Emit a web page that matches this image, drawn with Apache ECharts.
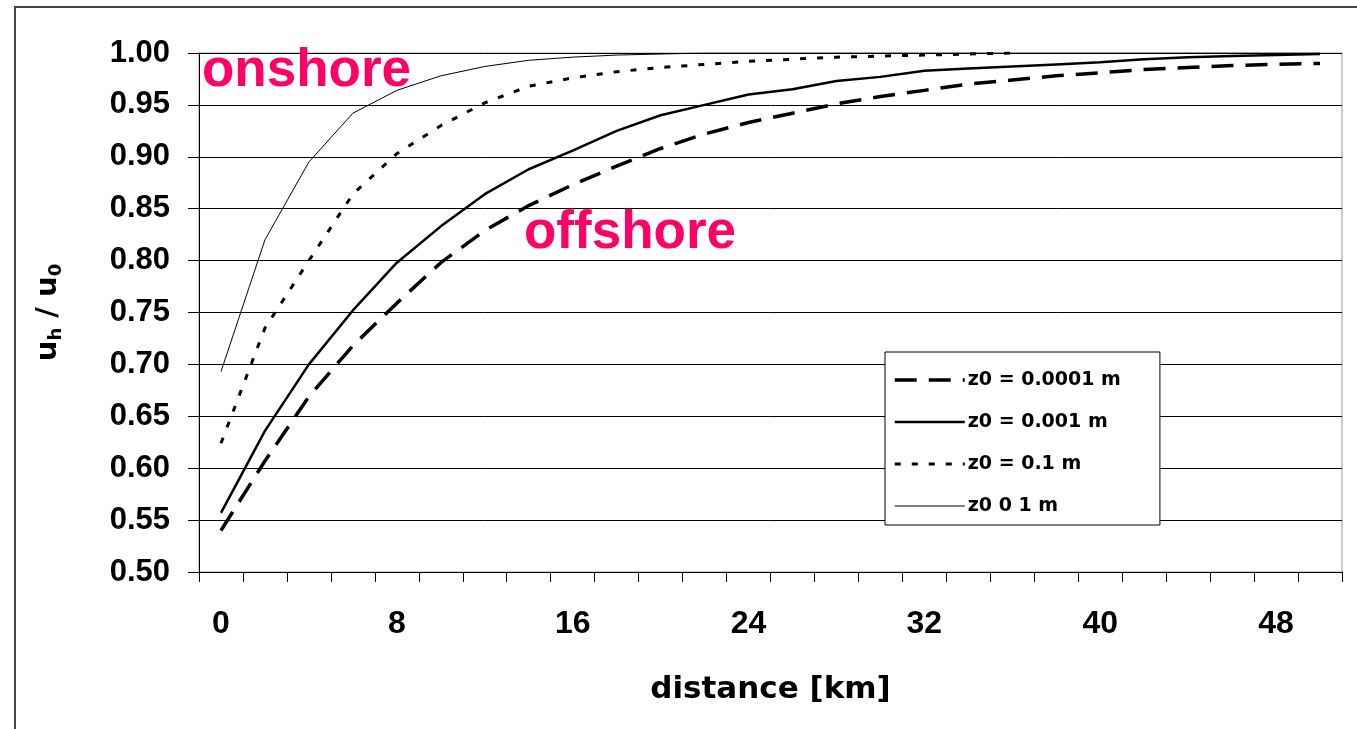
<!DOCTYPE html>
<html>
<head>
<meta charset="utf-8">
<script src="https://cdn.jsdelivr.net/npm/echarts@6/dist/echarts.min.js"></script>
<style>
  html, body { margin: 0; padding: 0; background: #ffffff; }
  #chart { width: 1357px; height: 729px; }
</style>
</head>
<body>
<div id="chart"></div>
<script>
// distance from the coast line [km]
const distances = ['0','2','4','6','8','10','12','14','16','18','20','22','24','26',
                   '28','30','32','34','36','38','40','42','44','46','48','50'];

// wind speed ratio u_h / u_0 for each roughness length
const ratioZ00001 = [0.540,0.607,0.669,0.718,0.759,0.798,0.829,0.853,0.873,0.891,0.908,0.922,0.933,
                     0.942,0.951,0.958,0.964,0.970,0.974,0.978,0.981,0.984,0.986,0.988,0.989,0.990];
const ratioZ0001  = [0.557,0.636,0.700,0.752,0.798,0.833,0.864,0.888,0.906,0.925,0.940,0.950,0.960,
                     0.965,0.973,0.977,0.983,0.985,0.987,0.989,0.991,0.994,0.996,0.997,0.998,0.999];
const ratioZ01    = [0.624,0.735,0.800,0.864,0.903,0.930,0.952,0.968,0.976,0.982,0.986,0.989,0.992,
                     0.994,0.996,0.997,0.998,0.999,1.000,null,null,null,null,null,null,null];
const ratioZ1     = [0.693,0.820,0.895,0.942,0.964,0.978,0.987,0.993,0.996,0.998,0.999,1.000,1.000,
                     1.000,1.000,1.000,1.000,1.000,1.000,1.000,1.000,1.000,1.000,1.000,1.000,1.000];

const seriesNames = ['z0 = 0.0001 m', 'z0 = 0.001 m', 'z0 = 0.1 m', 'z0 0 1 m'];

// stroke of each curve, shared by the plot and the legend keys
const strokes = [
  { color: '#000000', width: 3.5, type: [22, 12] },
  { color: '#000000', width: 2.5, type: 'solid' },
  { color: '#000000', width: 3, type: [6, 11] },
  { color: '#000000', width: 1, type: 'solid' }
];
const curves = [ratioZ00001, ratioZ0001, ratioZ01, ratioZ1];

const chart = echarts.init(document.getElementById('chart'), null, { renderer: 'canvas' });

const baseFont = 'Liberation Sans, Arial, sans-serif';
const wideFont = 'DejaVu Sans, Verdana, sans-serif';

chart.setOption({
  backgroundColor: '#ffffff',
  animation: false,
  grid: {
    left: 199, right: 15, top: 53, bottom: 157,
    show: true, borderColor: '#9a9a9a', borderWidth: 1,
    containLabel: false
  },
  xAxis: {
    type: 'category',
    data: distances,
    boundaryGap: true,
    name: 'distance [km]',
    nameLocation: 'middle',
    nameGap: 102,
    nameTextStyle: { fontFamily: wideFont, fontWeight: 'bold', fontSize: 31, color: '#000' },
    axisLine: { lineStyle: { color: '#000', width: 1 } },
    axisTick: { show: true, interval: 0, length: 10, inside: false, lineStyle: { color: '#000' } },
    axisLabel: {
      interval: 3, margin: 36,
      fontFamily: baseFont, fontWeight: 'bold', fontSize: 32, color: '#000'
    },
    splitLine: { show: false }
  },
  yAxis: {
    type: 'value',
    min: 0.5, max: 1.0, interval: 0.05,
    name: '{m|u}{s|h}{m| / u}{s|0}',
    nameLocation: 'middle',
    nameRotate: 90,
    nameGap: 134,
    nameTextStyle: {
      rich: {
        m: { fontFamily: wideFont, fontWeight: 'bold', fontSize: 29, color: '#000', lineHeight: 34 },
        s: { fontFamily: wideFont, fontWeight: 'bold', fontSize: 18, color: '#000', lineHeight: 34, verticalAlign: 'bottom', padding: [8, 0, 0, 0] }
      }
    },
    axisLine: { show: true, lineStyle: { color: '#000', width: 1 } },
    axisTick: { show: true, length: 11, inside: false, lineStyle: { color: '#000' } },
    axisLabel: {
      margin: 29,
      formatter: v => v.toFixed(2),
      fontFamily: baseFont, fontWeight: 'bold', fontSize: 31, color: '#000'
    },
    splitLine: { show: true, lineStyle: { color: '#000', width: 1 } }
  },
  legend: {
    data: seriesNames.map((name, i) => ({ name: name, lineStyle: strokes[i] })),
    orient: 'vertical',
    left: 885, top: 352,
    padding: [17, 39, 8, 8],
    itemWidth: 70, itemHeight: 22, itemGap: 20,
    itemStyle: { opacity: 0 },
    backgroundColor: '#ffffff',
    borderColor: '#000000', borderWidth: 1, borderRadius: 0,
    selectedMode: false,
    textStyle: { fontFamily: wideFont, fontWeight: 'bold', fontSize: 19, color: '#000', lineHeight: 22, padding: [0, 0, 0, -2] }
  },
  graphic: [
    {
      type: 'rect', z: -10, silent: true,
      shape: { x: 15, y: 7, width: 1400, height: 800 },
      style: { fill: 'none', stroke: '#444444', lineWidth: 2 }
    },
    {
      type: 'text', z: 10, silent: true,
      left: 202, top: 45,
      style: { text: 'onshore', fill: '#ff0066', font: 'bold 53px ' + baseFont }
    },
    {
      type: 'text', z: 10, silent: true,
      left: 524, top: 207,
      style: { text: 'offshore', fill: '#ff0066', font: 'bold 53px ' + baseFont }
    }
  ],
  series: seriesNames.map((name, i) => ({
    name: name,
    type: 'line',
    data: curves[i],
    symbol: 'none',
    smooth: false,
    connectNulls: false,
    lineStyle: strokes[i],
    itemStyle: { color: '#000000' },
    emphasis: { disabled: true },
    z: 3
  }))
});
</script>
</body>
</html>
